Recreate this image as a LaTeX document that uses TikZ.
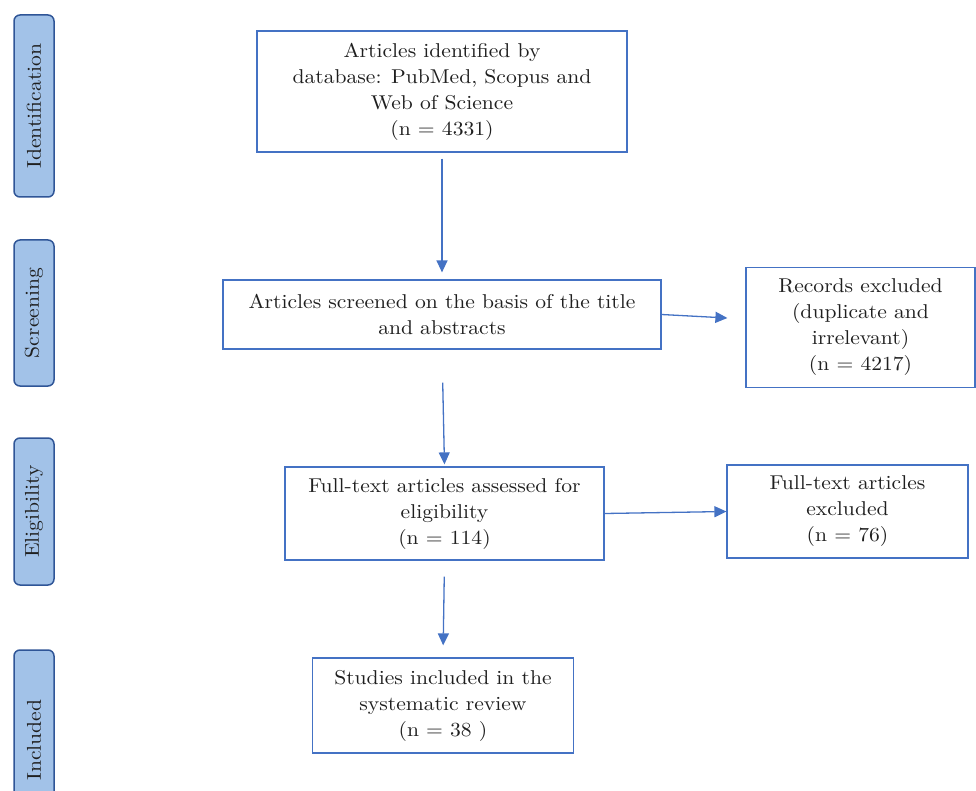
\documentclass[tikz,border=0pt]{standalone}
\usepackage{fontspec}
\setmainfont{lmroman10-regular.otf}[FakeStretch=1.08]
\usetikzlibrary{arrows.meta}
\definecolor{boxblue}{HTML}{4472C4}
\definecolor{stagefill}{HTML}{A2C2E8}
\definecolor{stageline}{HTML}{2F5597}
\begin{document}
\begin{tikzpicture}[x=1pt,y=-1pt,
  flowbox/.style={draw=boxblue, line width=1.2pt, align=center, inner sep=0pt,
    font=\fontsize{20}{26}\selectfont, text=black!88},
  stagebox/.style={draw=stageline, fill=stagefill, rounded corners=6pt, line width=1.5pt,
    rotate=90, inner sep=0pt, font=\fontsize{20}{24}\selectfont, text=black!88},
  arr/.style={draw=boxblue, line width=1.3pt, -{Triangle[length=12pt,width=11pt]}}]
\useasboundingbox (0,0) rectangle (976,791);
\begin{scope}
\clip (0,0) rectangle (976,791);
\node[stagebox, minimum width=182pt, minimum height=40pt] (s1) at (34,106) {Identification};
\node[stagebox, minimum width=146pt, minimum height=40pt] (s2) at (34,313) {Screening};
\node[stagebox, minimum width=147pt, minimum height=40pt] (s3) at (34,511.5) {Eligibility};
\node[stagebox, minimum width=180pt, minimum height=40pt] (s4) at (34,740) {Included};
\end{scope}

\node[flowbox, minimum width=370pt, minimum height=121pt] (b1) at (442,91.5)
  {Articles identified by\\database: PubMed, Scopus and\\Web of Science\\(n = 4331)};
\node[flowbox, minimum width=438pt, minimum height=69pt] (b2) at (442,314.5)
  {Articles screened on the basis of the title\\and abstracts};
\node[flowbox, minimum width=229pt, minimum height=120pt] (b3) at (860.5,327.5)
  {Records excluded\\(duplicate and\\irrelevant)\\(n = 4217)};
\node[flowbox, minimum width=319pt, minimum height=93pt] (b4) at (444.5,513.5)
  {Full-text articles assessed for\\eligibility\\(n = 114)};
\node[flowbox, minimum width=241pt, minimum height=93pt] (b5) at (847.5,511.5)
  {Full-text articles\\excluded\\(n = 76)};
\node[flowbox, minimum width=261pt, minimum height=95pt] (b6) at (443,705.5)
  {Studies included in the\\systematic review\\(n = 38 )};

\draw[arr, shorten <=6pt, shorten >=7pt] (b1) -- (b2);
\draw[arr] (b2.east) -- ([xshift=-18pt,yshift=9.5pt]b3.west);
\draw[arr, shorten <=33pt, shorten >=2pt] (b2.south) -- (b4.north);
\draw[arr] (b4.east) -- (b5.west);
\draw[arr, shorten <=16pt, shorten >=12pt] (b4.south) -- (b6.north);
\end{tikzpicture}
\end{document}
